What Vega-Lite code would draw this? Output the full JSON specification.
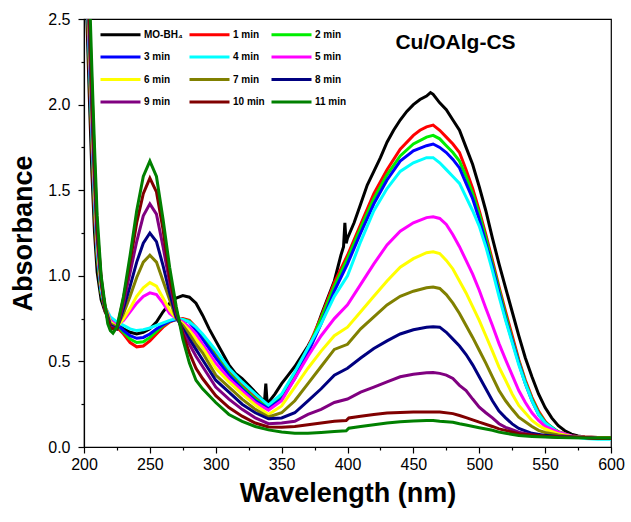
{
"$schema": "https://vega.github.io/schema/vega-lite/v6.json",
"width": 527, "height": 428,
"autosize": {"type": "none"},
"padding": {"left": 84, "top": 19, "right": 20, "bottom": 75},
"background": "white",
"config": {"view": {"stroke": "black", "strokeWidth": 1.2}, "font": "Liberation Sans",
 "axis": {"domainColor": "black", "tickColor": "black", "labelColor": "black", "titleColor": "black", "grid": false, "domainWidth": 1.2, "tickWidth": 1.2}},
"datasets": {
"label": [{"w": 482, "a": 2.36, "t": "Cu/OAlg-CS"}],
"spectra": [
{"s":"MO-BH₄","w":200,"a":3.2},{"s":"MO-BH₄","w":202,"a":2.55},{"s":"MO-BH₄","w":204,"a":2.05},{"s":"MO-BH₄","w":206,"a":1.6},{"s":"MO-BH₄","w":208,"a":1.25},{"s":"MO-BH₄","w":210,"a":1.02},{"s":"MO-BH₄","w":213,"a":0.86},{"s":"MO-BH₄","w":216,"a":0.79},{"s":"MO-BH₄","w":220,"a":0.75},{"s":"MO-BH₄","w":225,"a":0.72},{"s":"MO-BH₄","w":230,"a":0.69},{"s":"MO-BH₄","w":235,"a":0.67},{"s":"MO-BH₄","w":240,"a":0.66},{"s":"MO-BH₄","w":245,"a":0.67},{"s":"MO-BH₄","w":250,"a":0.69},{"s":"MO-BH₄","w":255,"a":0.73},{"s":"MO-BH₄","w":260,"a":0.79},{"s":"MO-BH₄","w":265,"a":0.84},{"s":"MO-BH₄","w":270,"a":0.87},{"s":"MO-BH₄","w":275,"a":0.885},{"s":"MO-BH₄","w":280,"a":0.875},{"s":"MO-BH₄","w":285,"a":0.84},{"s":"MO-BH₄","w":290,"a":0.77},{"s":"MO-BH₄","w":295,"a":0.69},{"s":"MO-BH₄","w":300,"a":0.62},{"s":"MO-BH₄","w":305,"a":0.55},{"s":"MO-BH₄","w":310,"a":0.48},{"s":"MO-BH₄","w":315,"a":0.43},{"s":"MO-BH₄","w":320,"a":0.4},{"s":"MO-BH₄","w":325,"a":0.36},{"s":"MO-BH₄","w":330,"a":0.32},{"s":"MO-BH₄","w":335,"a":0.28},{"s":"MO-BH₄","w":337,"a":0.265},{"s":"MO-BH₄","w":338,"a":0.37},{"s":"MO-BH₄","w":339,"a":0.26},{"s":"MO-BH₄","w":340,"a":0.26},{"s":"MO-BH₄","w":345,"a":0.31},{"s":"MO-BH₄","w":350,"a":0.37},{"s":"MO-BH₄","w":355,"a":0.42},{"s":"MO-BH₄","w":360,"a":0.47},{"s":"MO-BH₄","w":365,"a":0.53},{"s":"MO-BH₄","w":370,"a":0.59},{"s":"MO-BH₄","w":375,"a":0.66},{"s":"MO-BH₄","w":380,"a":0.77},{"s":"MO-BH₄","w":385,"a":0.87},{"s":"MO-BH₄","w":390,"a":0.97},{"s":"MO-BH₄","w":395,"a":1.12},{"s":"MO-BH₄","w":397,"a":1.17},{"s":"MO-BH₄","w":398,"a":1.31},{"s":"MO-BH₄","w":399,"a":1.19},{"s":"MO-BH₄","w":400,"a":1.22},{"s":"MO-BH₄","w":405,"a":1.31},{"s":"MO-BH₄","w":410,"a":1.42},{"s":"MO-BH₄","w":415,"a":1.53},{"s":"MO-BH₄","w":420,"a":1.61},{"s":"MO-BH₄","w":425,"a":1.69},{"s":"MO-BH₄","w":430,"a":1.78},{"s":"MO-BH₄","w":435,"a":1.85},{"s":"MO-BH₄","w":440,"a":1.91},{"s":"MO-BH₄","w":445,"a":1.96},{"s":"MO-BH₄","w":450,"a":2.0},{"s":"MO-BH₄","w":455,"a":2.03},{"s":"MO-BH₄","w":460,"a":2.05},{"s":"MO-BH₄","w":463,"a":2.07},{"s":"MO-BH₄","w":465,"a":2.06},{"s":"MO-BH₄","w":470,"a":2.01},{"s":"MO-BH₄","w":475,"a":1.97},{"s":"MO-BH₄","w":480,"a":1.91},{"s":"MO-BH₄","w":485,"a":1.85},{"s":"MO-BH₄","w":490,"a":1.75},{"s":"MO-BH₄","w":495,"a":1.65},{"s":"MO-BH₄","w":500,"a":1.52},{"s":"MO-BH₄","w":505,"a":1.38},{"s":"MO-BH₄","w":510,"a":1.22},{"s":"MO-BH₄","w":515,"a":1.07},{"s":"MO-BH₄","w":520,"a":0.93},{"s":"MO-BH₄","w":525,"a":0.79},{"s":"MO-BH₄","w":530,"a":0.65},{"s":"MO-BH₄","w":535,"a":0.52},{"s":"MO-BH₄","w":540,"a":0.41},{"s":"MO-BH₄","w":545,"a":0.31},{"s":"MO-BH₄","w":550,"a":0.23},{"s":"MO-BH₄","w":555,"a":0.17},{"s":"MO-BH₄","w":560,"a":0.125},{"s":"MO-BH₄","w":565,"a":0.095},{"s":"MO-BH₄","w":570,"a":0.075},{"s":"MO-BH₄","w":575,"a":0.065},{"s":"MO-BH₄","w":580,"a":0.058},{"s":"MO-BH₄","w":590,"a":0.055},{"s":"MO-BH₄","w":600,"a":0.055},
{"s":"1 min","w":200,"a":3.2},{"s":"1 min","w":202,"a":2.7},{"s":"1 min","w":204,"a":2.2},{"s":"1 min","w":206,"a":1.75},{"s":"1 min","w":208,"a":1.35},{"s":"1 min","w":210,"a":1.1},{"s":"1 min","w":213,"a":0.9},{"s":"1 min","w":216,"a":0.8},{"s":"1 min","w":220,"a":0.74},{"s":"1 min","w":225,"a":0.7},{"s":"1 min","w":230,"a":0.66},{"s":"1 min","w":235,"a":0.61},{"s":"1 min","w":240,"a":0.585},{"s":"1 min","w":245,"a":0.59},{"s":"1 min","w":250,"a":0.62},{"s":"1 min","w":255,"a":0.66},{"s":"1 min","w":260,"a":0.7},{"s":"1 min","w":265,"a":0.73},{"s":"1 min","w":270,"a":0.745},{"s":"1 min","w":275,"a":0.75},{"s":"1 min","w":280,"a":0.74},{"s":"1 min","w":285,"a":0.7},{"s":"1 min","w":290,"a":0.65},{"s":"1 min","w":300,"a":0.54},{"s":"1 min","w":310,"a":0.44},{"s":"1 min","w":320,"a":0.36},{"s":"1 min","w":330,"a":0.29},{"s":"1 min","w":340,"a":0.235},{"s":"1 min","w":350,"a":0.3},{"s":"1 min","w":360,"a":0.42},{"s":"1 min","w":370,"a":0.58},{"s":"1 min","w":380,"a":0.76},{"s":"1 min","w":390,"a":0.96},{"s":"1 min","w":400,"a":1.12},{"s":"1 min","w":410,"a":1.3},{"s":"1 min","w":420,"a":1.48},{"s":"1 min","w":430,"a":1.62},{"s":"1 min","w":440,"a":1.74},{"s":"1 min","w":450,"a":1.82},{"s":"1 min","w":455,"a":1.85},{"s":"1 min","w":460,"a":1.87},{"s":"1 min","w":465,"a":1.88},{"s":"1 min","w":470,"a":1.85},{"s":"1 min","w":475,"a":1.81},{"s":"1 min","w":480,"a":1.77},{"s":"1 min","w":485,"a":1.72},{"s":"1 min","w":490,"a":1.62},{"s":"1 min","w":495,"a":1.51},{"s":"1 min","w":500,"a":1.38},{"s":"1 min","w":505,"a":1.24},{"s":"1 min","w":510,"a":1.09},{"s":"1 min","w":515,"a":0.935},{"s":"1 min","w":520,"a":0.79},{"s":"1 min","w":525,"a":0.65},{"s":"1 min","w":530,"a":0.51},{"s":"1 min","w":535,"a":0.39},{"s":"1 min","w":540,"a":0.29},{"s":"1 min","w":545,"a":0.21},{"s":"1 min","w":550,"a":0.15},{"s":"1 min","w":555,"a":0.11},{"s":"1 min","w":560,"a":0.09},{"s":"1 min","w":570,"a":0.065},{"s":"1 min","w":580,"a":0.058},{"s":"1 min","w":590,"a":0.055},{"s":"1 min","w":600,"a":0.055},
{"s":"2 min","w":200,"a":3.2},{"s":"2 min","w":202,"a":2.75},{"s":"2 min","w":204,"a":2.25},{"s":"2 min","w":206,"a":1.8},{"s":"2 min","w":208,"a":1.4},{"s":"2 min","w":210,"a":1.12},{"s":"2 min","w":213,"a":0.9},{"s":"2 min","w":216,"a":0.8},{"s":"2 min","w":220,"a":0.74},{"s":"2 min","w":225,"a":0.71},{"s":"2 min","w":230,"a":0.67},{"s":"2 min","w":235,"a":0.63},{"s":"2 min","w":240,"a":0.61},{"s":"2 min","w":245,"a":0.615},{"s":"2 min","w":250,"a":0.64},{"s":"2 min","w":255,"a":0.675},{"s":"2 min","w":260,"a":0.71},{"s":"2 min","w":265,"a":0.735},{"s":"2 min","w":270,"a":0.745},{"s":"2 min","w":275,"a":0.745},{"s":"2 min","w":280,"a":0.735},{"s":"2 min","w":285,"a":0.69},{"s":"2 min","w":290,"a":0.64},{"s":"2 min","w":300,"a":0.53},{"s":"2 min","w":310,"a":0.43},{"s":"2 min","w":320,"a":0.35},{"s":"2 min","w":330,"a":0.28},{"s":"2 min","w":340,"a":0.23},{"s":"2 min","w":350,"a":0.29},{"s":"2 min","w":360,"a":0.41},{"s":"2 min","w":370,"a":0.57},{"s":"2 min","w":380,"a":0.75},{"s":"2 min","w":390,"a":0.94},{"s":"2 min","w":400,"a":1.1},{"s":"2 min","w":410,"a":1.28},{"s":"2 min","w":420,"a":1.45},{"s":"2 min","w":430,"a":1.59},{"s":"2 min","w":440,"a":1.7},{"s":"2 min","w":450,"a":1.77},{"s":"2 min","w":460,"a":1.81},{"s":"2 min","w":465,"a":1.82},{"s":"2 min","w":470,"a":1.8},{"s":"2 min","w":475,"a":1.76},{"s":"2 min","w":480,"a":1.72},{"s":"2 min","w":485,"a":1.67},{"s":"2 min","w":490,"a":1.58},{"s":"2 min","w":495,"a":1.48},{"s":"2 min","w":500,"a":1.36},{"s":"2 min","w":505,"a":1.22},{"s":"2 min","w":510,"a":1.07},{"s":"2 min","w":515,"a":0.92},{"s":"2 min","w":520,"a":0.77},{"s":"2 min","w":525,"a":0.63},{"s":"2 min","w":530,"a":0.5},{"s":"2 min","w":535,"a":0.38},{"s":"2 min","w":540,"a":0.28},{"s":"2 min","w":545,"a":0.2},{"s":"2 min","w":550,"a":0.145},{"s":"2 min","w":560,"a":0.088},{"s":"2 min","w":570,"a":0.063},{"s":"2 min","w":580,"a":0.055},{"s":"2 min","w":590,"a":0.052},{"s":"2 min","w":600,"a":0.052},
{"s":"3 min","w":200,"a":3.2},{"s":"3 min","w":202,"a":2.75},{"s":"3 min","w":204,"a":2.3},{"s":"3 min","w":206,"a":1.85},{"s":"3 min","w":208,"a":1.45},{"s":"3 min","w":210,"a":1.15},{"s":"3 min","w":213,"a":0.92},{"s":"3 min","w":216,"a":0.81},{"s":"3 min","w":220,"a":0.75},{"s":"3 min","w":225,"a":0.72},{"s":"3 min","w":230,"a":0.68},{"s":"3 min","w":235,"a":0.65},{"s":"3 min","w":240,"a":0.635},{"s":"3 min","w":245,"a":0.64},{"s":"3 min","w":250,"a":0.66},{"s":"3 min","w":255,"a":0.69},{"s":"3 min","w":260,"a":0.715},{"s":"3 min","w":265,"a":0.735},{"s":"3 min","w":270,"a":0.745},{"s":"3 min","w":275,"a":0.74},{"s":"3 min","w":280,"a":0.73},{"s":"3 min","w":285,"a":0.68},{"s":"3 min","w":290,"a":0.63},{"s":"3 min","w":300,"a":0.52},{"s":"3 min","w":310,"a":0.42},{"s":"3 min","w":320,"a":0.34},{"s":"3 min","w":330,"a":0.27},{"s":"3 min","w":340,"a":0.225},{"s":"3 min","w":350,"a":0.28},{"s":"3 min","w":360,"a":0.4},{"s":"3 min","w":370,"a":0.55},{"s":"3 min","w":380,"a":0.72},{"s":"3 min","w":390,"a":0.91},{"s":"3 min","w":400,"a":1.07},{"s":"3 min","w":410,"a":1.25},{"s":"3 min","w":420,"a":1.42},{"s":"3 min","w":430,"a":1.56},{"s":"3 min","w":440,"a":1.67},{"s":"3 min","w":450,"a":1.73},{"s":"3 min","w":460,"a":1.76},{"s":"3 min","w":465,"a":1.77},{"s":"3 min","w":470,"a":1.75},{"s":"3 min","w":475,"a":1.72},{"s":"3 min","w":480,"a":1.68},{"s":"3 min","w":485,"a":1.63},{"s":"3 min","w":490,"a":1.54},{"s":"3 min","w":495,"a":1.45},{"s":"3 min","w":500,"a":1.33},{"s":"3 min","w":505,"a":1.19},{"s":"3 min","w":510,"a":1.05},{"s":"3 min","w":515,"a":0.9},{"s":"3 min","w":520,"a":0.75},{"s":"3 min","w":525,"a":0.62},{"s":"3 min","w":530,"a":0.49},{"s":"3 min","w":535,"a":0.37},{"s":"3 min","w":540,"a":0.27},{"s":"3 min","w":545,"a":0.19},{"s":"3 min","w":550,"a":0.14},{"s":"3 min","w":560,"a":0.085},{"s":"3 min","w":570,"a":0.062},{"s":"3 min","w":580,"a":0.055},{"s":"3 min","w":590,"a":0.05},{"s":"3 min","w":600,"a":0.05},
{"s":"4 min","w":200,"a":3.2},{"s":"4 min","w":202,"a":2.8},{"s":"4 min","w":204,"a":2.3},{"s":"4 min","w":206,"a":1.85},{"s":"4 min","w":208,"a":1.45},{"s":"4 min","w":210,"a":1.15},{"s":"4 min","w":213,"a":0.92},{"s":"4 min","w":216,"a":0.82},{"s":"4 min","w":220,"a":0.76},{"s":"4 min","w":225,"a":0.73},{"s":"4 min","w":230,"a":0.71},{"s":"4 min","w":235,"a":0.69},{"s":"4 min","w":240,"a":0.68},{"s":"4 min","w":245,"a":0.685},{"s":"4 min","w":250,"a":0.695},{"s":"4 min","w":255,"a":0.71},{"s":"4 min","w":260,"a":0.725},{"s":"4 min","w":265,"a":0.74},{"s":"4 min","w":270,"a":0.75},{"s":"4 min","w":275,"a":0.745},{"s":"4 min","w":280,"a":0.73},{"s":"4 min","w":285,"a":0.7},{"s":"4 min","w":290,"a":0.66},{"s":"4 min","w":300,"a":0.565},{"s":"4 min","w":310,"a":0.46},{"s":"4 min","w":320,"a":0.38},{"s":"4 min","w":330,"a":0.31},{"s":"4 min","w":340,"a":0.245},{"s":"4 min","w":350,"a":0.31},{"s":"4 min","w":360,"a":0.44},{"s":"4 min","w":370,"a":0.58},{"s":"4 min","w":380,"a":0.72},{"s":"4 min","w":390,"a":0.88},{"s":"4 min","w":400,"a":1.0},{"s":"4 min","w":410,"a":1.2},{"s":"4 min","w":420,"a":1.38},{"s":"4 min","w":430,"a":1.51},{"s":"4 min","w":440,"a":1.61},{"s":"4 min","w":450,"a":1.66},{"s":"4 min","w":460,"a":1.69},{"s":"4 min","w":465,"a":1.69},{"s":"4 min","w":470,"a":1.66},{"s":"4 min","w":475,"a":1.62},{"s":"4 min","w":480,"a":1.58},{"s":"4 min","w":485,"a":1.54},{"s":"4 min","w":490,"a":1.46},{"s":"4 min","w":495,"a":1.38},{"s":"4 min","w":500,"a":1.29},{"s":"4 min","w":505,"a":1.17},{"s":"4 min","w":510,"a":1.03},{"s":"4 min","w":515,"a":0.88},{"s":"4 min","w":520,"a":0.74},{"s":"4 min","w":525,"a":0.61},{"s":"4 min","w":530,"a":0.48},{"s":"4 min","w":535,"a":0.37},{"s":"4 min","w":540,"a":0.27},{"s":"4 min","w":545,"a":0.19},{"s":"4 min","w":550,"a":0.14},{"s":"4 min","w":560,"a":0.085},{"s":"4 min","w":570,"a":0.062},{"s":"4 min","w":580,"a":0.05},{"s":"4 min","w":590,"a":0.045},{"s":"4 min","w":600,"a":0.045},
{"s":"5 min","w":200,"a":3.2},{"s":"5 min","w":202,"a":2.8},{"s":"5 min","w":204,"a":2.35},{"s":"5 min","w":206,"a":1.9},{"s":"5 min","w":208,"a":1.5},{"s":"5 min","w":210,"a":1.18},{"s":"5 min","w":213,"a":0.94},{"s":"5 min","w":216,"a":0.82},{"s":"5 min","w":220,"a":0.74},{"s":"5 min","w":225,"a":0.71},{"s":"5 min","w":230,"a":0.74},{"s":"5 min","w":235,"a":0.79},{"s":"5 min","w":240,"a":0.84},{"s":"5 min","w":245,"a":0.88},{"s":"5 min","w":250,"a":0.9},{"s":"5 min","w":255,"a":0.89},{"s":"5 min","w":260,"a":0.84},{"s":"5 min","w":265,"a":0.78},{"s":"5 min","w":270,"a":0.75},{"s":"5 min","w":275,"a":0.73},{"s":"5 min","w":280,"a":0.7},{"s":"5 min","w":285,"a":0.66},{"s":"5 min","w":290,"a":0.6},{"s":"5 min","w":300,"a":0.49},{"s":"5 min","w":310,"a":0.4},{"s":"5 min","w":320,"a":0.33},{"s":"5 min","w":330,"a":0.26},{"s":"5 min","w":340,"a":0.215},{"s":"5 min","w":350,"a":0.27},{"s":"5 min","w":360,"a":0.4},{"s":"5 min","w":370,"a":0.53},{"s":"5 min","w":380,"a":0.65},{"s":"5 min","w":390,"a":0.75},{"s":"5 min","w":400,"a":0.83},{"s":"5 min","w":410,"a":0.95},{"s":"5 min","w":420,"a":1.07},{"s":"5 min","w":430,"a":1.18},{"s":"5 min","w":440,"a":1.26},{"s":"5 min","w":450,"a":1.31},{"s":"5 min","w":460,"a":1.34},{"s":"5 min","w":465,"a":1.345},{"s":"5 min","w":470,"a":1.335},{"s":"5 min","w":475,"a":1.3},{"s":"5 min","w":480,"a":1.24},{"s":"5 min","w":485,"a":1.17},{"s":"5 min","w":490,"a":1.09},{"s":"5 min","w":495,"a":1.01},{"s":"5 min","w":500,"a":0.916},{"s":"5 min","w":505,"a":0.81},{"s":"5 min","w":510,"a":0.71},{"s":"5 min","w":515,"a":0.604},{"s":"5 min","w":520,"a":0.51},{"s":"5 min","w":525,"a":0.42},{"s":"5 min","w":530,"a":0.33},{"s":"5 min","w":535,"a":0.26},{"s":"5 min","w":540,"a":0.2},{"s":"5 min","w":545,"a":0.155},{"s":"5 min","w":550,"a":0.12},{"s":"5 min","w":560,"a":0.087},{"s":"5 min","w":570,"a":0.065},{"s":"5 min","w":580,"a":0.055},{"s":"5 min","w":590,"a":0.05},{"s":"5 min","w":600,"a":0.05},
{"s":"6 min","w":200,"a":3.2},{"s":"6 min","w":202,"a":2.85},{"s":"6 min","w":204,"a":2.4},{"s":"6 min","w":206,"a":1.95},{"s":"6 min","w":208,"a":1.52},{"s":"6 min","w":210,"a":1.2},{"s":"6 min","w":213,"a":0.95},{"s":"6 min","w":216,"a":0.82},{"s":"6 min","w":220,"a":0.73},{"s":"6 min","w":225,"a":0.7},{"s":"6 min","w":230,"a":0.75},{"s":"6 min","w":235,"a":0.81},{"s":"6 min","w":240,"a":0.88},{"s":"6 min","w":245,"a":0.93},{"s":"6 min","w":250,"a":0.96},{"s":"6 min","w":255,"a":0.94},{"s":"6 min","w":260,"a":0.87},{"s":"6 min","w":265,"a":0.8},{"s":"6 min","w":270,"a":0.75},{"s":"6 min","w":275,"a":0.72},{"s":"6 min","w":280,"a":0.68},{"s":"6 min","w":285,"a":0.63},{"s":"6 min","w":290,"a":0.58},{"s":"6 min","w":300,"a":0.46},{"s":"6 min","w":310,"a":0.38},{"s":"6 min","w":320,"a":0.31},{"s":"6 min","w":330,"a":0.245},{"s":"6 min","w":340,"a":0.19},{"s":"6 min","w":350,"a":0.24},{"s":"6 min","w":360,"a":0.35},{"s":"6 min","w":370,"a":0.46},{"s":"6 min","w":380,"a":0.56},{"s":"6 min","w":390,"a":0.65},{"s":"6 min","w":400,"a":0.7},{"s":"6 min","w":410,"a":0.79},{"s":"6 min","w":420,"a":0.88},{"s":"6 min","w":430,"a":0.97},{"s":"6 min","w":440,"a":1.05},{"s":"6 min","w":450,"a":1.1},{"s":"6 min","w":460,"a":1.135},{"s":"6 min","w":465,"a":1.14},{"s":"6 min","w":470,"a":1.13},{"s":"6 min","w":475,"a":1.09},{"s":"6 min","w":480,"a":1.04},{"s":"6 min","w":485,"a":0.97},{"s":"6 min","w":490,"a":0.9},{"s":"6 min","w":495,"a":0.82},{"s":"6 min","w":500,"a":0.74},{"s":"6 min","w":505,"a":0.65},{"s":"6 min","w":510,"a":0.56},{"s":"6 min","w":515,"a":0.467},{"s":"6 min","w":520,"a":0.39},{"s":"6 min","w":525,"a":0.31},{"s":"6 min","w":530,"a":0.243},{"s":"6 min","w":540,"a":0.155},{"s":"6 min","w":545,"a":0.126},{"s":"6 min","w":550,"a":0.105},{"s":"6 min","w":560,"a":0.077},{"s":"6 min","w":570,"a":0.062},{"s":"6 min","w":580,"a":0.055},{"s":"6 min","w":590,"a":0.05},{"s":"6 min","w":600,"a":0.05},
{"s":"7 min","w":200,"a":3.2},{"s":"7 min","w":202,"a":2.85},{"s":"7 min","w":204,"a":2.4},{"s":"7 min","w":206,"a":1.95},{"s":"7 min","w":208,"a":1.55},{"s":"7 min","w":210,"a":1.22},{"s":"7 min","w":213,"a":0.96},{"s":"7 min","w":216,"a":0.82},{"s":"7 min","w":220,"a":0.72},{"s":"7 min","w":225,"a":0.7},{"s":"7 min","w":230,"a":0.78},{"s":"7 min","w":235,"a":0.88},{"s":"7 min","w":240,"a":0.99},{"s":"7 min","w":245,"a":1.08},{"s":"7 min","w":250,"a":1.12},{"s":"7 min","w":255,"a":1.08},{"s":"7 min","w":260,"a":0.97},{"s":"7 min","w":265,"a":0.86},{"s":"7 min","w":270,"a":0.75},{"s":"7 min","w":275,"a":0.71},{"s":"7 min","w":280,"a":0.66},{"s":"7 min","w":285,"a":0.6},{"s":"7 min","w":290,"a":0.55},{"s":"7 min","w":300,"a":0.42},{"s":"7 min","w":310,"a":0.35},{"s":"7 min","w":320,"a":0.28},{"s":"7 min","w":330,"a":0.22},{"s":"7 min","w":340,"a":0.175},{"s":"7 min","w":350,"a":0.2},{"s":"7 min","w":360,"a":0.27},{"s":"7 min","w":370,"a":0.37},{"s":"7 min","w":380,"a":0.47},{"s":"7 min","w":390,"a":0.57},{"s":"7 min","w":400,"a":0.6},{"s":"7 min","w":410,"a":0.69},{"s":"7 min","w":420,"a":0.76},{"s":"7 min","w":430,"a":0.83},{"s":"7 min","w":440,"a":0.88},{"s":"7 min","w":450,"a":0.91},{"s":"7 min","w":460,"a":0.93},{"s":"7 min","w":465,"a":0.935},{"s":"7 min","w":470,"a":0.926},{"s":"7 min","w":475,"a":0.89},{"s":"7 min","w":480,"a":0.84},{"s":"7 min","w":485,"a":0.78},{"s":"7 min","w":490,"a":0.71},{"s":"7 min","w":495,"a":0.64},{"s":"7 min","w":500,"a":0.565},{"s":"7 min","w":505,"a":0.49},{"s":"7 min","w":510,"a":0.41},{"s":"7 min","w":515,"a":0.33},{"s":"7 min","w":520,"a":0.27},{"s":"7 min","w":525,"a":0.22},{"s":"7 min","w":530,"a":0.174},{"s":"7 min","w":540,"a":0.12},{"s":"7 min","w":545,"a":0.097},{"s":"7 min","w":550,"a":0.085},{"s":"7 min","w":560,"a":0.07},{"s":"7 min","w":570,"a":0.06},{"s":"7 min","w":580,"a":0.055},{"s":"7 min","w":590,"a":0.05},{"s":"7 min","w":600,"a":0.05},
{"s":"8 min","w":200,"a":3.2},{"s":"8 min","w":202,"a":2.9},{"s":"8 min","w":204,"a":2.45},{"s":"8 min","w":206,"a":2.0},{"s":"8 min","w":208,"a":1.58},{"s":"8 min","w":210,"a":1.24},{"s":"8 min","w":213,"a":0.97},{"s":"8 min","w":216,"a":0.81},{"s":"8 min","w":220,"a":0.71},{"s":"8 min","w":225,"a":0.69},{"s":"8 min","w":230,"a":0.81},{"s":"8 min","w":235,"a":0.94},{"s":"8 min","w":240,"a":1.08},{"s":"8 min","w":245,"a":1.19},{"s":"8 min","w":250,"a":1.25},{"s":"8 min","w":255,"a":1.2},{"s":"8 min","w":260,"a":1.06},{"s":"8 min","w":265,"a":0.9},{"s":"8 min","w":270,"a":0.76},{"s":"8 min","w":275,"a":0.69},{"s":"8 min","w":280,"a":0.63},{"s":"8 min","w":285,"a":0.57},{"s":"8 min","w":290,"a":0.51},{"s":"8 min","w":300,"a":0.39},{"s":"8 min","w":310,"a":0.32},{"s":"8 min","w":320,"a":0.25},{"s":"8 min","w":330,"a":0.2},{"s":"8 min","w":340,"a":0.165},{"s":"8 min","w":350,"a":0.17},{"s":"8 min","w":360,"a":0.2},{"s":"8 min","w":370,"a":0.27},{"s":"8 min","w":380,"a":0.34},{"s":"8 min","w":390,"a":0.42},{"s":"8 min","w":400,"a":0.46},{"s":"8 min","w":410,"a":0.52},{"s":"8 min","w":420,"a":0.575},{"s":"8 min","w":430,"a":0.62},{"s":"8 min","w":440,"a":0.66},{"s":"8 min","w":450,"a":0.685},{"s":"8 min","w":460,"a":0.7},{"s":"8 min","w":465,"a":0.702},{"s":"8 min","w":470,"a":0.7},{"s":"8 min","w":475,"a":0.67},{"s":"8 min","w":480,"a":0.63},{"s":"8 min","w":485,"a":0.59},{"s":"8 min","w":490,"a":0.54},{"s":"8 min","w":495,"a":0.48},{"s":"8 min","w":500,"a":0.41},{"s":"8 min","w":505,"a":0.34},{"s":"8 min","w":510,"a":0.27},{"s":"8 min","w":515,"a":0.21},{"s":"8 min","w":520,"a":0.17},{"s":"8 min","w":525,"a":0.135},{"s":"8 min","w":530,"a":0.108},{"s":"8 min","w":540,"a":0.08},{"s":"8 min","w":550,"a":0.068},{"s":"8 min","w":560,"a":0.062},{"s":"8 min","w":570,"a":0.058},{"s":"8 min","w":580,"a":0.055},{"s":"8 min","w":590,"a":0.05},{"s":"8 min","w":600,"a":0.05},
{"s":"9 min","w":200,"a":3.2},{"s":"9 min","w":202,"a":2.9},{"s":"9 min","w":204,"a":2.5},{"s":"9 min","w":206,"a":2.05},{"s":"9 min","w":208,"a":1.62},{"s":"9 min","w":210,"a":1.26},{"s":"9 min","w":213,"a":0.98},{"s":"9 min","w":216,"a":0.8},{"s":"9 min","w":220,"a":0.7},{"s":"9 min","w":225,"a":0.69},{"s":"9 min","w":230,"a":0.84},{"s":"9 min","w":235,"a":1.02},{"s":"9 min","w":240,"a":1.2},{"s":"9 min","w":245,"a":1.35},{"s":"9 min","w":250,"a":1.42},{"s":"9 min","w":255,"a":1.36},{"s":"9 min","w":260,"a":1.17},{"s":"9 min","w":265,"a":0.96},{"s":"9 min","w":270,"a":0.78},{"s":"9 min","w":275,"a":0.67},{"s":"9 min","w":280,"a":0.6},{"s":"9 min","w":285,"a":0.53},{"s":"9 min","w":290,"a":0.47},{"s":"9 min","w":300,"a":0.35},{"s":"9 min","w":310,"a":0.28},{"s":"9 min","w":320,"a":0.22},{"s":"9 min","w":330,"a":0.17},{"s":"9 min","w":340,"a":0.136},{"s":"9 min","w":350,"a":0.14},{"s":"9 min","w":360,"a":0.15},{"s":"9 min","w":370,"a":0.19},{"s":"9 min","w":380,"a":0.22},{"s":"9 min","w":390,"a":0.26},{"s":"9 min","w":400,"a":0.28},{"s":"9 min","w":410,"a":0.32},{"s":"9 min","w":420,"a":0.35},{"s":"9 min","w":430,"a":0.38},{"s":"9 min","w":440,"a":0.41},{"s":"9 min","w":450,"a":0.425},{"s":"9 min","w":460,"a":0.434},{"s":"9 min","w":465,"a":0.435},{"s":"9 min","w":470,"a":0.43},{"s":"9 min","w":475,"a":0.42},{"s":"9 min","w":480,"a":0.4},{"s":"9 min","w":485,"a":0.36},{"s":"9 min","w":490,"a":0.33},{"s":"9 min","w":495,"a":0.28},{"s":"9 min","w":500,"a":0.233},{"s":"9 min","w":505,"a":0.2},{"s":"9 min","w":510,"a":0.17},{"s":"9 min","w":515,"a":0.136},{"s":"9 min","w":520,"a":0.115},{"s":"9 min","w":530,"a":0.087},{"s":"9 min","w":540,"a":0.07},{"s":"9 min","w":550,"a":0.062},{"s":"9 min","w":560,"a":0.058},{"s":"9 min","w":580,"a":0.055},{"s":"9 min","w":590,"a":0.05},{"s":"9 min","w":600,"a":0.05},
{"s":"10 min","w":200,"a":3.2},{"s":"10 min","w":202,"a":2.95},{"s":"10 min","w":204,"a":2.55},{"s":"10 min","w":206,"a":2.1},{"s":"10 min","w":208,"a":1.66},{"s":"10 min","w":210,"a":1.28},{"s":"10 min","w":213,"a":0.99},{"s":"10 min","w":216,"a":0.8},{"s":"10 min","w":220,"a":0.69},{"s":"10 min","w":225,"a":0.69},{"s":"10 min","w":230,"a":0.87},{"s":"10 min","w":235,"a":1.08},{"s":"10 min","w":240,"a":1.31},{"s":"10 min","w":245,"a":1.48},{"s":"10 min","w":250,"a":1.57},{"s":"10 min","w":255,"a":1.49},{"s":"10 min","w":260,"a":1.27},{"s":"10 min","w":265,"a":0.99},{"s":"10 min","w":270,"a":0.8},{"s":"10 min","w":275,"a":0.66},{"s":"10 min","w":280,"a":0.55},{"s":"10 min","w":285,"a":0.46},{"s":"10 min","w":290,"a":0.4},{"s":"10 min","w":300,"a":0.3},{"s":"10 min","w":310,"a":0.23},{"s":"10 min","w":320,"a":0.18},{"s":"10 min","w":330,"a":0.14},{"s":"10 min","w":340,"a":0.117},{"s":"10 min","w":350,"a":0.115},{"s":"10 min","w":360,"a":0.12},{"s":"10 min","w":370,"a":0.13},{"s":"10 min","w":380,"a":0.14},{"s":"10 min","w":390,"a":0.15},{"s":"10 min","w":399,"a":0.155},{"s":"10 min","w":401,"a":0.17},{"s":"10 min","w":410,"a":0.18},{"s":"10 min","w":420,"a":0.19},{"s":"10 min","w":430,"a":0.198},{"s":"10 min","w":440,"a":0.202},{"s":"10 min","w":450,"a":0.204},{"s":"10 min","w":460,"a":0.205},{"s":"10 min","w":465,"a":0.205},{"s":"10 min","w":470,"a":0.204},{"s":"10 min","w":480,"a":0.195},{"s":"10 min","w":485,"a":0.184},{"s":"10 min","w":490,"a":0.172},{"s":"10 min","w":500,"a":0.145},{"s":"10 min","w":510,"a":0.12},{"s":"10 min","w":515,"a":0.106},{"s":"10 min","w":520,"a":0.097},{"s":"10 min","w":530,"a":0.077},{"s":"10 min","w":540,"a":0.07},{"s":"10 min","w":550,"a":0.063},{"s":"10 min","w":560,"a":0.058},{"s":"10 min","w":580,"a":0.055},{"s":"10 min","w":590,"a":0.05},{"s":"10 min","w":600,"a":0.05},
{"s":"11 min","w":200,"a":3.3},{"s":"11 min","w":202,"a":3.0},{"s":"11 min","w":204,"a":2.7},{"s":"11 min","w":206,"a":2.2},{"s":"11 min","w":208,"a":1.75},{"s":"11 min","w":210,"a":1.35},{"s":"11 min","w":213,"a":1.0},{"s":"11 min","w":216,"a":0.83},{"s":"11 min","w":218,"a":0.72},{"s":"11 min","w":220,"a":0.68},{"s":"11 min","w":222,"a":0.665},{"s":"11 min","w":225,"a":0.7},{"s":"11 min","w":230,"a":0.88},{"s":"11 min","w":235,"a":1.12},{"s":"11 min","w":240,"a":1.38},{"s":"11 min","w":245,"a":1.58},{"s":"11 min","w":250,"a":1.67},{"s":"11 min","w":255,"a":1.58},{"s":"11 min","w":260,"a":1.33},{"s":"11 min","w":265,"a":1.05},{"s":"11 min","w":270,"a":0.82},{"s":"11 min","w":275,"a":0.63},{"s":"11 min","w":280,"a":0.49},{"s":"11 min","w":285,"a":0.39},{"s":"11 min","w":290,"a":0.34},{"s":"11 min","w":300,"a":0.26},{"s":"11 min","w":310,"a":0.19},{"s":"11 min","w":320,"a":0.15},{"s":"11 min","w":330,"a":0.12},{"s":"11 min","w":340,"a":0.1},{"s":"11 min","w":350,"a":0.088},{"s":"11 min","w":360,"a":0.08},{"s":"11 min","w":370,"a":0.08},{"s":"11 min","w":380,"a":0.085},{"s":"11 min","w":390,"a":0.09},{"s":"11 min","w":399,"a":0.095},{"s":"11 min","w":401,"a":0.11},{"s":"11 min","w":410,"a":0.12},{"s":"11 min","w":420,"a":0.13},{"s":"11 min","w":430,"a":0.14},{"s":"11 min","w":440,"a":0.147},{"s":"11 min","w":450,"a":0.152},{"s":"11 min","w":460,"a":0.155},{"s":"11 min","w":465,"a":0.155},{"s":"11 min","w":470,"a":0.151},{"s":"11 min","w":480,"a":0.145},{"s":"11 min","w":485,"a":0.136},{"s":"11 min","w":490,"a":0.128},{"s":"11 min","w":500,"a":0.113},{"s":"11 min","w":510,"a":0.098},{"s":"11 min","w":515,"a":0.087},{"s":"11 min","w":520,"a":0.08},{"s":"11 min","w":530,"a":0.067},{"s":"11 min","w":540,"a":0.062},{"s":"11 min","w":550,"a":0.058},{"s":"11 min","w":560,"a":0.055},{"s":"11 min","w":580,"a":0.053},{"s":"11 min","w":600,"a":0.053}
]},
"layer": [
{"data": {"name": "spectra"},
 "mark": {"type": "line", "strokeWidth": 3, "clip": true},
 "encoding": {
  "x": {"field": "w", "type": "quantitative", "scale": {"domain": [200, 600], "nice": false},
   "axis": {"values": [200,250,300,350,400,450,500,550,600], "title": "Wavelength (nm)", "titleFontSize": 27, "titleFontWeight": "bold", "titlePadding": 8, "labelFontSize": 16, "tickSize": 6, "labelPadding": 3, "labelFlush": false}},
  "y": {"field": "a", "type": "quantitative", "scale": {"domain": [0, 2.5], "nice": false},
   "axis": {"values": [0,0.5,1,1.5,2,2.5], "format": ".1f", "title": "Absorbance", "titleFontSize": 27, "titleFontWeight": "bold", "titlePadding": 10, "labelFontSize": 16, "tickSize": 6, "labelPadding": 8, "labelFlush": false}},
  "color": {"field": "s", "type": "nominal",
   "scale": {"domain": ["MO-BH₄","1 min","2 min","3 min","4 min","5 min","6 min","7 min","8 min","9 min","10 min","11 min"],
    "range": ["#000000","#ff0000","#00ee00","#0000ff","#00ffff","#ff00ff","#ffff00","#808000","#000080","#800080","#800000","#008000"]},
   "legend": {"title": null, "orient": "none", "legendX": 30, "legendY": 9, "columns": 3, "direction": "horizontal", "symbolType": "M-4,0H4", "symbolSize": 100, "symbolStrokeWidth": 3, "labelFontSize": 10, "labelFontWeight": "bold", "labelOffset": 17, "columnPadding": 0, "rowPadding": 9.5, "padding": 0}}
 }},
{"data": {"name": "label"},
 "mark": {"type": "text", "fontSize": 21, "fontWeight": "bold", "align": "center", "baseline": "middle", "color": "black"},
 "encoding": {
  "x": {"field": "w", "type": "quantitative", "scale": {"domain": [200, 600], "nice": false},
   "axis": {"orient": "bottom", "values": [225,275,325,375,425,475,525,575], "labels": false, "domain": false, "title": null, "tickSize": 3}},
  "y": {"field": "a", "type": "quantitative", "scale": {"domain": [0, 2.5], "nice": false},
   "axis": {"orient": "left", "values": [0.25,0.75,1.25,1.75,2.25], "labels": false, "domain": false, "title": null, "tickSize": 3}},
  "text": {"field": "t"}
 }}
],
"resolve": {"axis": {"x": "independent", "y": "independent"}}
}
